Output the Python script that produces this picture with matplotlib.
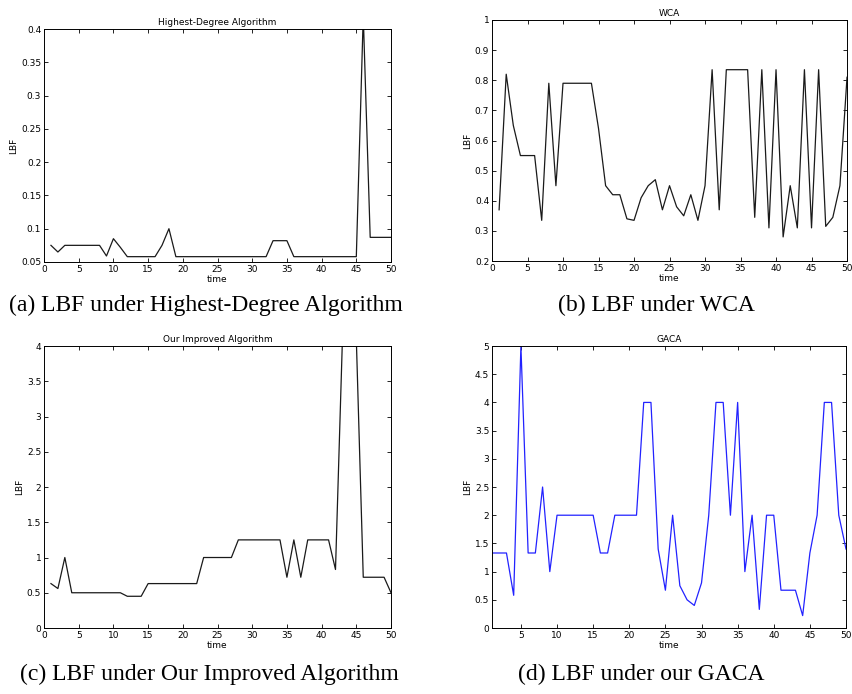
import matplotlib
matplotlib.use('Agg')
import matplotlib.pyplot as plt
import numpy as np
from matplotlib.ticker import FuncFormatter

## -- time axis shared by all four panels
time = list(range(1, 51))

## -- (a) Highest-Degree Algorithm
lbf_hd = [0.075, 0.065, 0.075, 0.075, 0.075, 0.075, 0.075, 0.075, 0.059, 0.085,
          0.072, 0.058, 0.058, 0.058, 0.058, 0.058, 0.075, 0.1, 0.058, 0.058,
          0.058, 0.058, 0.058, 0.058, 0.058, 0.058, 0.058, 0.058, 0.058, 0.058,
          0.058, 0.058, 0.082, 0.082, 0.082, 0.058, 0.058, 0.058, 0.058, 0.058,
          0.058, 0.058, 0.058, 0.058, 0.058, 0.42, 0.087, 0.087, 0.087, 0.087]

## -- (b) WCA
lbf_wca = [0.37, 0.82, 0.65, 0.55, 0.55, 0.55, 0.335, 0.79, 0.45, 0.79,
           0.79, 0.79, 0.79, 0.79, 0.64, 0.45, 0.42, 0.42, 0.34, 0.335,
           0.41, 0.45, 0.47, 0.37, 0.45, 0.38, 0.35, 0.42, 0.335, 0.45,
           0.835, 0.37, 0.835, 0.835, 0.835, 0.835, 0.345, 0.835, 0.31, 0.835,
           0.28, 0.45, 0.31, 0.835, 0.31, 0.835, 0.315, 0.345, 0.45, 0.81]

## -- (c) Our Improved Algorithm
lbf_imp = [0.63, 0.56, 1.0, 0.5, 0.5, 0.5, 0.5, 0.5, 0.5, 0.5,
           0.5, 0.45, 0.45, 0.45, 0.63, 0.63, 0.63, 0.63, 0.63, 0.63,
           0.63, 0.63, 1.0, 1.0, 1.0, 1.0, 1.0, 1.25, 1.25, 1.25,
           1.25, 1.25, 1.25, 1.25, 0.72, 1.25, 0.72, 1.25, 1.25, 1.25,
           1.25, 0.83, 4.1, 4.1, 4.1, 0.72, 0.72, 0.72, 0.72, 0.5]

## -- (d) GACA
lbf_gaca = [1.33, 1.33, 1.33, 0.58, 5.0, 1.33, 1.33, 2.5, 1.0, 2.0,
            2.0, 2.0, 2.0, 2.0, 2.0, 1.33, 1.33, 2.0, 2.0, 2.0,
            2.0, 4.0, 4.0, 1.4, 0.67, 2.0, 0.75, 0.5, 0.4, 0.8,
            2.0, 4.0, 4.0, 2.0, 4.0, 1.0, 2.0, 0.33, 2.0, 2.0,
            0.67, 0.67, 0.67, 0.22, 1.33, 2.0, 4.0, 4.0, 2.0, 1.4]

titles   = ['Highest-Degree Algorithm', 'WCA', 'Our Improved Algorithm', 'GACA']
captions = ['(a) LBF under Highest-Degree Algorithm', '(b) LBF under WCA',
            '(c) LBF under Our Improved Algorithm', '(d) LBF under our GACA']

fig = plt.figure(figsize=(8.53, 6.94), dpi=100)

pos = [[0.0516, 0.6225, 0.4068, 0.3357],
       [0.5768, 0.6239, 0.4162, 0.3473],
       [0.0516, 0.0951, 0.4068, 0.4063],
       [0.5768, 0.0951, 0.4150, 0.4063]]
series = [lbf_hd, lbf_wca, lbf_imp, lbf_gaca]
colors = ['#1a1a1a', '#1a1a1a', '#1a1a1a', '#2222ff']
xlims  = [(0, 50), (0, 50), (0, 50), (1, 50)]
ylims  = [(0.05, 0.4), (0.2, 1.0), (0, 4), (0, 5)]
yticks = [np.arange(0.05, 0.401, 0.05), np.arange(0.2, 1.001, 0.1),
          np.arange(0, 4.01, 0.5), np.arange(0, 5.01, 0.5)]
xticks = [range(0, 51, 5), range(0, 51, 5), range(0, 51, 5), range(5, 51, 5)]

fmt = FuncFormatter(lambda v, p: '%g' % round(v, 3))

for i in range(4):
 ax = fig.add_axes(pos[i])
 ax.plot(time, series[i], color=colors[i], lw=0.9)
 ax.set_xlim(xlims[i])
 ax.set_ylim(ylims[i])
 ax.set_xticks(list(xticks[i]))
 ax.set_yticks(yticks[i])
 ax.yaxis.set_major_formatter(fmt)
 ax.tick_params(direction='in', top=True, right=True, labelsize=6.5,
                length=3, width=0.6, pad=2)
 for s in ax.spines.values():
  s.set_linewidth(0.7)
 ax.set_title(titles[i], fontsize=6.5, pad=3)
 ax.set_xlabel('time', fontsize=6.5, labelpad=1)
 ax.set_ylabel('LBF', fontsize=6.5, labelpad=2)

## -- captions below each panel, in serif like the paper
cap_x = [205.5 / 853., 656 / 853., 209 / 853., 641 / 853.]
cap_y = [1 - 305 / 694., 1 - 305 / 694., 1 - 674 / 694., 1 - 674 / 694.]
for i in range(4):
 fig.text(cap_x[i], cap_y[i], captions[i], family='Liberation Serif',
          fontsize=17, va='center', ha='center')

fig.savefig('out.png', dpi=100)
